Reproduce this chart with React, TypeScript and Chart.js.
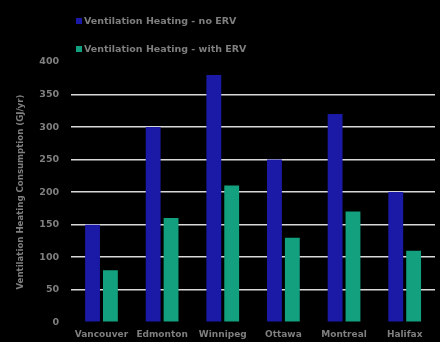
import React, { useEffect, useRef } from "react";
import { Chart, registerables } from "chart.js";

Chart.register(...registerables);

const categories = ["Vancouver", "Edmonton", "Winnipeg", "Ottawa", "Montreal", "Halifax"];
const noErv = [150, 300, 380, 250, 320, 200];
const withErv = [80, 160, 210, 130, 170, 110];
const seriesLabels = ["Ventilation Heating - no ERV", "Ventilation Heating - with ERV"];
const yTitle = "Ventilation Heating Consumption (GJ/yr)";

const BLUE = "#1a1aa6";
const GREEN = "#13a07e";
const TEXT = "#7f7f7f";
const FONT = "'DejaVu Sans'";

const stackedLegend = {
  id: "stackedLegend",
  afterDraw(chart: any) {
    const ctx = chart.ctx;
    ctx.save();
    ctx.font = `bold 9.5px ${FONT}`;
    ctx.textBaseline = "middle";
    ctx.textAlign = "left";
    const ys = [21, 49];
    chart.data.datasets.forEach((ds: any, i: number) => {
      const y = ys[i];
      ctx.fillStyle = ds.backgroundColor;
      ctx.fillRect(76, y - 3, 6, 6);
      ctx.fillStyle = TEXT;
      ctx.fillText(ds.label, 84, y + 0.5);
    });
    ctx.restore();
  },
};

export default function App() {
  const ref = useRef<HTMLCanvasElement>(null);
  useEffect(() => {
    const chart = new Chart(ref.current!, {
      type: "bar",
      data: {
        labels: categories,
        datasets: [
          { label: seriesLabels[0], data: noErv, backgroundColor: BLUE, barPercentage: 0.83, categoryPercentage: 0.59 },
          { label: seriesLabels[1], data: withErv, backgroundColor: GREEN, barPercentage: 0.83, categoryPercentage: 0.59 },
        ],
      },
      options: {
        animation: false,
        responsive: true,
        maintainAspectRatio: false,
        layout: { padding: { top: 62, right: 5, bottom: -5, left: 12 } },
        plugins: { legend: { display: false }, tooltip: { enabled: false } },
        scales: {
          x: {
            grid: { display: false, drawTicks: false },
            border: { display: false },
            ticks: { color: TEXT, font: { family: FONT, size: 9, weight: "bold" }, padding: 7, maxRotation: 0, autoSkip: false },
          },
          y: {
            min: 0,
            max: 400,
            border: { display: false },
            grid: {
              drawTicks: false,
              lineWidth: 1.5,
              color: (c: any) => (c.tick && (c.tick.value === 0 || c.tick.value === 400) ? "rgba(0,0,0,0)" : "#d9d9d9"),
            },
            ticks: { stepSize: 50, color: TEXT, font: { family: FONT, size: 9.5, weight: "bold" }, padding: 12 },
            title: { display: true, text: yTitle, color: TEXT, font: { family: FONT, size: 8.6, weight: "bold" }, padding: { top: 4, bottom: 1 } },
          },
        },
      },
      plugins: [stackedLegend],
    });
    return () => chart.destroy();
  }, []);
  return (
    <div style={{ position: "fixed", left: 0, top: 0, width: 440, height: 342, background: "#000" }}>
      <canvas ref={ref} />
    </div>
  );
}
